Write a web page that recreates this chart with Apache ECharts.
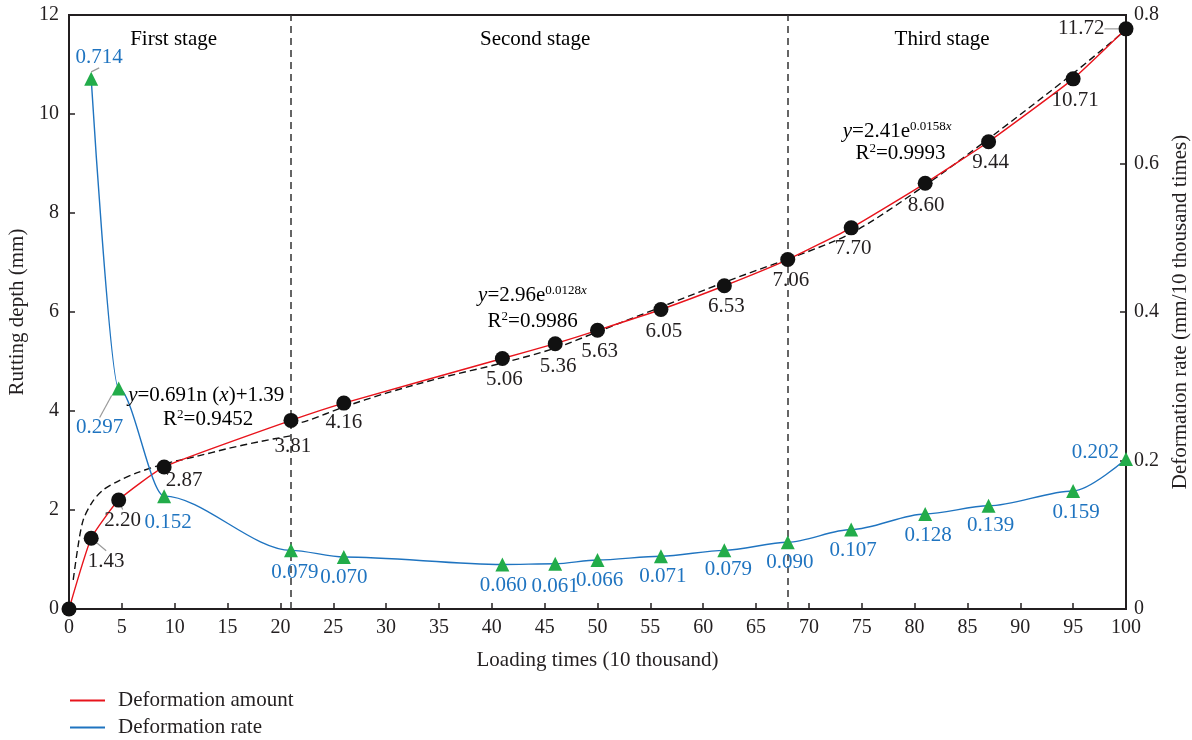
<!DOCTYPE html>
<html>
<head>
<meta charset="utf-8">
<script src="https://cdn.jsdelivr.net/npm/echarts@6/dist/echarts.min.js"></script>
<style>
html,body{margin:0;padding:0;background:#fff;overflow:hidden;}
#chart{width:1192px;height:740px;}
</style>
</head>
<body>
<div id="chart"></div>
<script>
// ---- data ----
const loadX = [0, 2.1, 4.7, 9, 21, 26, 41, 46, 50, 56, 62, 68, 74, 81, 87, 95, 100];
const depth = [0, 1.43, 2.20, 2.87, 3.81, 4.16, 5.06, 5.36, 5.63, 6.05, 6.53, 7.06, 7.70, 8.60, 9.44, 10.71, 11.72];
const rateX = [2.1, 4.7, 9, 21, 26, 41, 46, 50, 56, 62, 68, 74, 81, 87, 95, 100];
const rate = [0.714, 0.297, 0.152, 0.079, 0.070, 0.060, 0.061, 0.066, 0.071, 0.079, 0.090, 0.107, 0.128, 0.139, 0.159, 0.202];
// fitted (dashed) curves
const fit1X = [0.4, 0.9, 1.35, 2.2, 3.2, 4.8, 6.4, 9, 12, 15, 18, 21];
const fit1Y = [0.59, 1.33, 1.80, 2.16, 2.40, 2.60, 2.75, 2.93, 3.08, 3.24, 3.38, 3.50];
const fit2X = [21, 22.5, 26, 30, 35, 41, 46, 50, 56, 62, 68];
const fit2Y = [3.72, 3.80, 4.08, 4.36, 4.66, 4.97, 5.27, 5.60, 6.10, 6.60, 7.07];
const fit3X = [68, 74, 81, 87, 95, 100];
const fit3Y = [7.07, 7.59, 8.56, 9.50, 10.82, 11.70];
const stageLines = [21, 68];
const stageNames = ['First stage', 'Second stage', 'Third stage'];
const xTicks = {min: 0, max: 100, interval: 5};
const yLeftTicks = {min: 0, max: 12, interval: 2};
const yRightTicks = {min: 0, max: 0.8, interval: 0.2};

// ---- layout / style config ----
const FONT = 'Liberation Serif';
const FS = 21;
const TXT = '#231f20';
const RED = '#e8141c';
const BLUE = '#1f74c0';
const LBLUE = '#1f74c0';
const GREEN = '#22ac4a';
const depthShift = [[0,0],[15,1],[4,-2],[20,-8],[2,4],[0,-3],[2,-1],[3,1],[2,-1],[3,0],[2,-1],[3,-1],[2,-1],[1,0],[2,-1],[2,0],[0,0]];
const depthLeader = [false,true,true,false,false,false,false,false,false,false,false,false,false,false,false,false,false];
const rateShift = [[8,0],[-19,18],[4,5],[4,1],[0,-1],[1,0],[0,1],[2,-1],[2,-1],[4,-2],[2,-1],[2,-1],[3,0],[2,-2],[3,0],[0,-7]];
const rateLeader = [true,true,false,false,false,false,false,false,false,false,false,false,false,false,false,false];

const zip = (a, b) => a.map((v, i) => [v, b[i]]);

const chart = echarts.init(document.getElementById('chart'), null, {renderer: 'canvas', width: 1192, height: 740});

const axisLine = {show: true, lineStyle: {color: TXT, width: 2}};
const axisTick = {show: true, inside: true, length: 6, lineStyle: {color: TXT, width: 1.5}};
const axisLabel = {color: TXT, fontFamily: FONT, fontSize: FS - 1};
const nameStyle = {color: TXT, fontFamily: FONT, fontSize: FS};

const depthData = loadX.map((x, i) => {
  const d = {value: [x, depth[i]]};
  if (i === 0) d.label = {show: false};
  if (i === loadX.length - 1) d.label = {position: 'left', distance: 14};
  if (depthLeader[i] || i === loadX.length - 1) d.labelLine = {show: true};
  return d;
});
const rateData = rateX.map((x, i) => {
  const d = {value: [x, rate[i]]};
  if (i === 0) d.label = {position: 'top', distance: 4};
  if (i === rateX.length - 1) d.label = {position: 'left', distance: 0};
  if (rateLeader[i]) d.labelLine = {show: true};
  return d;
});

const dashed = (data) => ({
  type: 'line', data: data, smooth: 0.3, symbol: 'none', silent: true, z: 3,
  lineStyle: {color: '#111', width: 1.4, type: [7, 4]}, xAxisIndex: 0, yAxisIndex: 0
});

const option = {
  animation: false,
  backgroundColor: '#fff',
  grid: {left: 69, right: 66, top: 15, bottom: 131, show: true, borderColor: TXT, borderWidth: 2,
    backgroundColor: 'transparent', containLabel: false, outerBoundsMode: 'none'},
  legend: {
    orient: 'vertical', left: 70, top: 690, padding: 0, itemWidth: 35, itemHeight: 2, itemGap: 6, icon: 'rect',
    data: ['Deformation amount', 'Deformation rate'],
    textStyle: {color: TXT, fontFamily: FONT, fontSize: FS, lineHeight: 21, padding: [0, 0, 0, 8]}
  },
  xAxis: {
    type: 'value', min: xTicks.min, max: xTicks.max, interval: xTicks.interval,
    name: 'Loading times (10 thousand)', nameLocation: 'middle', nameGap: 41, nameTextStyle: nameStyle,
    axisLine: axisLine, axisTick: axisTick, axisLabel: Object.assign({margin: 9}, axisLabel), splitLine: {show: false}
  },
  yAxis: [{
    type: 'value', min: yLeftTicks.min, max: yLeftTicks.max, interval: yLeftTicks.interval,
    name: 'Rutting depth (mm)', nameLocation: 'middle', nameGap: 40, nameRotate: 90, nameTextStyle: nameStyle,
    axisLine: axisLine, axisTick: axisTick, axisLabel: Object.assign({margin: 10}, axisLabel), splitLine: {show: false}
  }, {
    type: 'value', min: yRightTicks.min, max: yRightTicks.max, interval: yRightTicks.interval, position: 'right',
    name: 'Deformation rate (mm/10 thousand times)', nameLocation: 'middle', nameGap: 41, nameRotate: 90, nameTextStyle: nameStyle,
    axisLine: axisLine, axisTick: axisTick, axisLabel: Object.assign({margin: 8}, axisLabel), splitLine: {show: false}
  }],
  series: [
    Object.assign(dashed(zip(fit1X, fit1Y)), {
      markLine: {
        silent: true, symbol: 'none', label: {show: false},
        lineStyle: {color: '#333', width: 1.5, type: [7, 5]},
        data: stageLines.map(v => ({xAxis: v}))
      }
    }),
    dashed(zip(fit2X, fit2Y)),
    dashed(zip(fit3X, fit3Y)),
    {
      name: 'Deformation amount', type: 'line', data: zip(loadX, depth), smooth: 0.15,
      symbol: 'none', color: RED, lineStyle: {color: RED, width: 1.4}, z: 4, xAxisIndex: 0, yAxisIndex: 0
    },
    {
      name: 'Deformation rate', type: 'line', data: zip(rateX, rate), smooth: 0.3, smoothMonotone: 'x',
      symbol: 'none', color: BLUE, lineStyle: {color: BLUE, width: 1.4}, z: 4, xAxisIndex: 0, yAxisIndex: 1
    },
    {
      name: 'depthPts', type: 'scatter', data: depthData, symbol: 'circle', symbolSize: 15, z: 6,
      itemStyle: {color: '#111', opacity: 1}, xAxisIndex: 0, yAxisIndex: 0,
      label: {show: true, position: 'bottom', distance: 4, color: TXT, opacity: 1, fontFamily: FONT, fontSize: FS,
        formatter: p => p.value[1].toFixed(2)},
      labelLine: {show: false, lineStyle: {color: '#9a9a9a', width: 1.2, opacity: 1}},
      labelLayout: p => ({dx: depthShift[p.dataIndex][0], dy: depthShift[p.dataIndex][1]})
    },
    {
      name: 'ratePts', type: 'scatter', data: rateData, symbol: 'triangle', symbolSize: 14, z: 6,
      itemStyle: {color: GREEN, opacity: 1}, xAxisIndex: 0, yAxisIndex: 1,
      label: {show: true, position: 'bottom', distance: 4, color: LBLUE, opacity: 1, fontFamily: FONT, fontSize: FS,
        formatter: p => p.value[1].toFixed(3)},
      labelLine: {show: false, lineStyle: {color: '#9a9a9a', width: 1.2, opacity: 1}},
      labelLayout: p => ({dx: rateShift[p.dataIndex][0], dy: rateShift[p.dataIndex][1]})
    }
  ]
};
chart.setOption(option);

// annotations anchored to data coordinates
const px = (x, y) => chart.convertToPixel({xAxisIndex: 0, yAxisIndex: 0}, [x, y]);
const rich = {
  n: {fontFamily: FONT, fontSize: FS, color: TXT},
  i: {fontFamily: FONT, fontSize: FS, color: TXT, fontStyle: 'italic'},
  s: {fontFamily: FONT, fontSize: 13, color: TXT, verticalAlign: 'top', padding: [0, 0, 10, 0]},
  si: {fontFamily: FONT, fontSize: 13, color: TXT, fontStyle: 'italic', verticalAlign: 'top', padding: [0, 0, 10, 0]}
};
const annots = [
  {at: [9.9, 11.5], text: '{n|' + stageNames[0] + '}', align: 'center'},
  {at: [44.1, 11.5], text: '{n|' + stageNames[1] + '}', align: 'center'},
  {at: [82.6, 11.5], text: '{n|' + stageNames[2] + '}', align: 'center'},
  {at: [5.6, 4.32], text: '{i|y}{n|=0.691n (}{i|x}{n|)+1.39}', align: 'left'},
  {at: [8.9, 3.82], text: '{n|R}{s|2}{n|=0.9452}', align: 'left'},
  {at: [38.7, 6.34], text: '{i|y}{n|=2.96e}{s|0.0128}{si|x}', align: 'left'},
  {at: [39.6, 5.80], text: '{n|R}{s|2}{n|=0.9986}', align: 'left'},
  {at: [73.2, 9.64], text: '{i|y}{n|=2.41e}{s|0.0158}{si|x}', align: 'left'},
  {at: [74.4, 9.21], text: '{n|R}{s|2}{n|=0.9993}', align: 'left'}
];
chart.setOption({
  graphic: annots.map(a => {
    const p = px(a.at[0], a.at[1]);
    return {type: 'text', x: p[0], y: p[1], z: 10, silent: true,
      style: {text: a.text, rich: rich, align: a.align, verticalAlign: 'middle'}};
  })
});
</script>
</body>
</html>
